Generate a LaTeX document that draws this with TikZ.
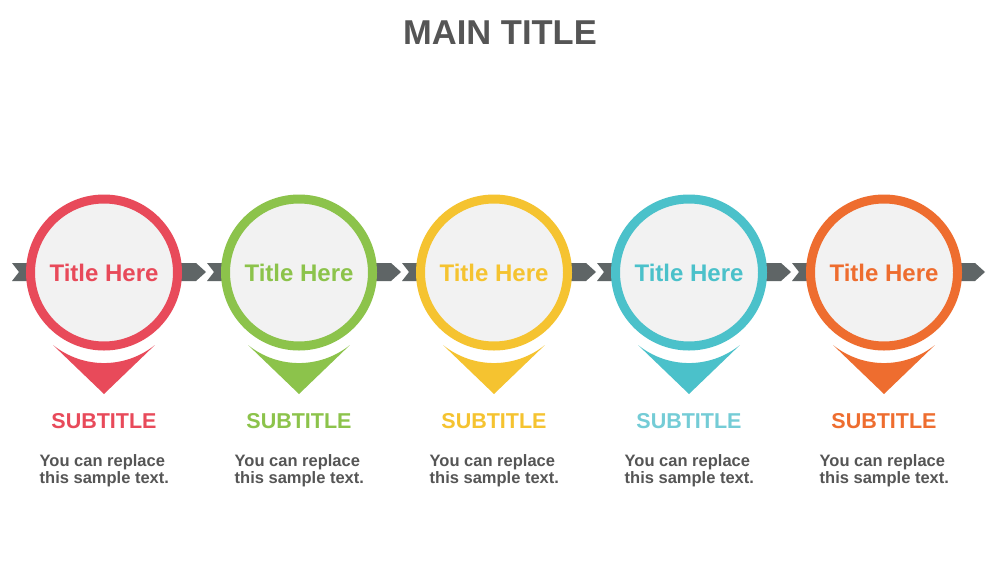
\documentclass[tikz,border=0pt]{standalone}
\usepackage{fontspec}
\setmainfont{Liberation Sans}
\definecolor{cred}{HTML}{E84A5A}
\definecolor{cgreen}{HTML}{8CC34B}
\definecolor{cyellow}{HTML}{F5C330}
\definecolor{ccyan}{HTML}{4BC1CA}
\definecolor{ccyansub}{HTML}{74CCD6}
\definecolor{corange}{HTML}{EE6D2F}
\definecolor{bandgray}{HTML}{5F6566}
\definecolor{txtgray}{HTML}{555555}
\definecolor{circfill}{HTML}{F2F2F2}
\tikzset{
  ring/.style={circle, draw=#1, line width=9pt, fill=circfill, minimum size=147pt, inner sep=0pt,
    text=#1, font=\fontsize{24}{28}\selectfont\bfseries},
  subtitle/.style={anchor=base, text=#1, font=\fontsize{21.5}{24}\selectfont\bfseries, inner sep=0pt},
  bodytext/.style={anchor=base west, text=txtgray, font=\fontsize{16.5}{18}\selectfont\bfseries, inner sep=0pt},
  maintitle/.style={anchor=base, text=txtgray, font=\fontsize{34.5}{38}\selectfont\bfseries, inner sep=0pt},
}
\begin{document}
\begin{tikzpicture}[x=1pt,y=-1pt]
\useasboundingbox (0,0) rectangle (1000,562);
\fill[white] (0,0) rectangle (1000,562);
\node[maintitle] (title) at (500,44) {MAIN TITLE};
% band segments
\foreach \k in {0,...,4}{
  \pgfmathsetmacro\xt{12+195*\k}
  \pgfmathsetmacro\xh{206+195*\k-(\k==4 ? 1 : 0)}
  \fill[bandgray] (\xt,263) -- (\xh-10,263) -- (\xh,272) -- (\xh-10,281) -- (\xt,281) -- (\xt+7,272) -- cycle;
}
\foreach \i/\col/\sub in {0/cred/cred,1/cgreen/cgreen,2/cyellow/cyellow,3/ccyan/ccyansub,4/corange/corange}{
  \pgfmathsetmacro\cx{104+195*\i}
  \fill[\col] (\cx-51,345) arc[start angle=129, end angle=51, radius=81] -- (\cx,394) -- cycle;
  \node[ring=\col] (c\i) at (\cx,272.5) {Title Here};
  \node[subtitle=\sub] (s\i) at (\cx,428.3) {SUBTITLE};
  \node[bodytext] (ta\i) at (\cx-64.5,466.5) {You can replace};
  \node[bodytext] (tb\i) at (\cx-64.5,483) {this sample text.};
}
\end{tikzpicture}
\end{document}
